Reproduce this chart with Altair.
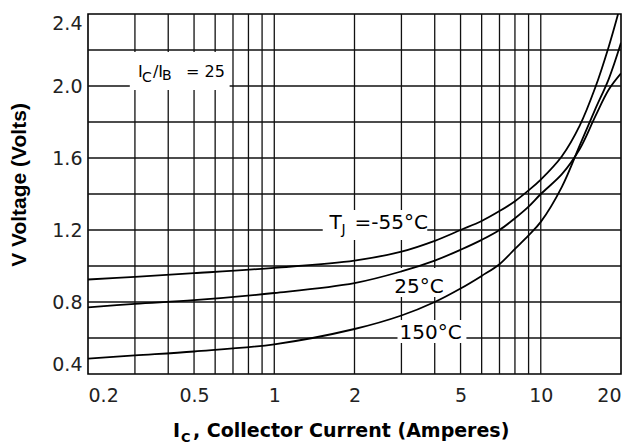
import altair as alt
import pandas as pd

# ---------------- data ----------------
SERIES = ["-55°C", "25°C", "150°C"]

I_M55 = [0.2, 0.3, 0.5, 1, 2, 3, 4, 5, 6, 7, 8, 9, 10, 12, 14, 16, 18, 19.5]
V_M55 = [0.925, 0.94, 0.96, 0.99, 1.03, 1.08, 1.14, 1.2, 1.25, 1.305, 1.36, 1.42, 1.48, 1.61, 1.78, 1.99, 2.22, 2.4]

I_25 = [0.2, 0.3, 0.5, 1, 2, 3, 4, 5, 6, 7, 8, 9, 10, 12, 14, 16, 18, 20]
V_25 = [0.77, 0.79, 0.81, 0.85, 0.905, 0.97, 1.03, 1.09, 1.145, 1.2, 1.265, 1.33, 1.4, 1.51, 1.65, 1.83, 1.98, 2.07]

I_150 = [0.2, 0.3, 0.5, 1, 2, 3, 4, 5, 6, 7, 8, 9, 10, 12, 14, 16, 18, 20]
V_150 = [0.485, 0.503, 0.525, 0.565, 0.65, 0.725, 0.80, 0.875, 0.945, 1.01, 1.095, 1.17, 1.245, 1.44, 1.67, 1.87, 2.04, 2.24]

GRID_X = [0.3, 0.4, 0.5, 0.6, 0.7, 0.8, 0.9, 1, 2, 3, 4, 5, 6, 7, 8, 9, 10]
GRID_Y = [0.6, 0.8, 1.0, 1.2, 1.4, 1.6, 1.8, 2.0, 2.2]
X_TICKS = [0.2, 0.5, 1, 2, 5, 10, 20]
Y_TICKS = [0.4, 0.8, 1.2, 1.6, 2.0, 2.4]

# white label backgrounds (data coordinates)
BOX_X1 = [0.287, 1.52, 2.75, 2.90]
BOX_X2 = [0.68, 3.75, 4.46, 5.26]
BOX_Y1 = [1.978, 1.144, 0.828, 0.572]
BOX_Y2 = [2.189, 1.311, 0.989, 0.70]

# annotation pieces: text, anchor x, anchor y, dx, dy, size
ANNOT = [
    ("I", 0.308, 2.05, 0, 0, 16),
    ("C", 0.308, 2.05, 4, 5, 14),
    ("/I", 0.308, 2.05, 15, 0, 16),
    ("B", 0.308, 2.05, 24, 3, 14),
    ("= 25", 0.308, 2.05, 48, 0, 16),
    ("T", 1.612, 1.206, 0, 0, 20),
    ("J", 1.612, 1.206, 12, 5, 14),
    ("=-55°C", 1.612, 1.206, 25, 0, 20),
    ("25°C", 2.82, 0.85, 0, 0, 20),
    ("150°C", 2.95, 0.594, 0, 0, 20),
]

rows = []
for name, cur, vals in [(SERIES[0], I_M55, V_M55), (SERIES[1], I_25, V_25), (SERIES[2], I_150, V_150)]:
    for c, v in zip(cur, vals):
        rows.append({"series": name, "I": c, "V": v})
curves = pd.DataFrame(rows)

xs = alt.Scale(type="log", domain=[0.2, 20], nice=False)
ys = alt.Scale(domain=[0.4, 2.4], nice=False, zero=False)

X_AXIS = alt.Axis(
    values=X_TICKS, labelExpr="format(datum.value, '~g')", title=None, grid=False, ticks=False,
    domain=False, labelFont="DejaVu Sans", labelFontSize=19, labelColor="#222", labelPadding=12,
    labelAlign={"expr": "datum.value < 0.25 ? 'left' : (datum.value > 15 ? 'right' : 'center')"},
    labelOverlap=False)
Y_AXIS = alt.Axis(
    values=Y_TICKS, format=".1f", title=None, grid=False, ticks=False, domain=False,
    labelFont="DejaVu Sans", labelFontSize=19, labelColor="#222", labelPadding=6,
    labelFlush=True, labelOverlap=False)


def X(field):
    return alt.X(field, scale=xs, axis=X_AXIS)


def Y(field):
    return alt.Y(field, scale=ys, axis=Y_AXIS)


grid_v = alt.Chart(pd.DataFrame({"g": GRID_X})).mark_rule(color="#111", strokeWidth=1.3).encode(
    x=X("g:Q")
)
grid_h = alt.Chart(pd.DataFrame({"g": GRID_Y})).mark_rule(color="#111", strokeWidth=1.3).encode(
    y=Y("g:Q")
)

boxes = alt.Chart(pd.DataFrame({"x1": BOX_X1, "x2": BOX_X2, "y1": BOX_Y1, "y2": BOX_Y2})).mark_rect(
    fill="white"
).encode(x=X("x1:Q"), x2="x2:Q", y=Y("y1:Q"), y2="y2:Q")

lines = alt.Chart(curves).mark_line(color="black", strokeWidth=1.8, interpolate="catmull-rom", clip=True).encode(
    x=X("I:Q"),
    y=Y("V:Q"),
    detail="series:N",
    order="I:Q",
)

layers = [grid_v, grid_h, boxes, lines]

for txt, ax, ay, dx, dy, size in ANNOT:
    layers.append(
        alt.Chart(pd.DataFrame({"t": [txt], "x": [ax], "y": [ay]})).mark_text(
            font="DejaVu Sans", fontSize=size, color="black", align="left", baseline="alphabetic",
            dx=dx, dy=dy
        ).encode(x=X("x:Q"), y=Y("y:Q"), text="t:N")
    )

# axis titles (x title has a subscript, so it is built from pieces)
XT = [("I", 85, 423, 19), ("C", 93, 428, 13), (", Collector Current (Amperes)", 105, 423, 19)]
for txt, px, py, size in XT:
    layers.append(
        alt.Chart(pd.DataFrame({"t": [txt]})).mark_text(
            font="DejaVu Sans", fontWeight="bold", fontSize=size, color="black",
            align="left", baseline="alphabetic"
        ).encode(x=alt.value(px), y=alt.value(py), text="t:N")
    )

layers.append(
    alt.Chart(pd.DataFrame({"t": ["V Voltage (Volts)"]})).mark_text(
        font="Liberation Sans", fontWeight="bold", fontSize=21, color="black",
        align="center", baseline="middle", angle=270
    ).encode(x=alt.value(-68), y=alt.value(171), text="t:N")
)

chart = alt.layer(*layers).properties(
    width=533, height=360,
    padding={"left": 80, "top": 6, "right": 4, "bottom": 75},
    autosize=alt.AutoSizeParams(type="none"),
    background="white",
).configure_view(stroke="black", strokeWidth=1.6)

chart.save("out.html", embed_options={"renderer": "svg", "actions": False})
